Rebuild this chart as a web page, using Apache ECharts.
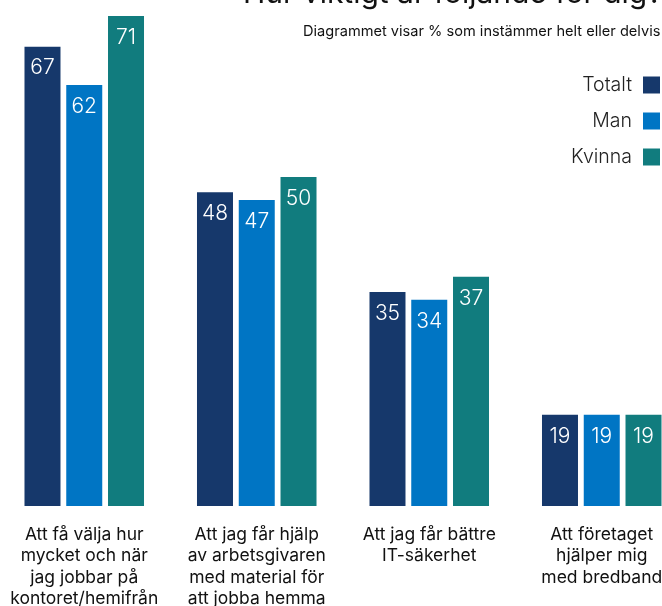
<!DOCTYPE html>
<html>
<head>
<meta charset="utf-8">
<style>
  html, body { margin: 0; padding: 0; background: #fff; }
  #chart { width: 662px; height: 606px; }
</style>
<script src="https://cdn.jsdelivr.net/npm/echarts@6/dist/echarts.min.js"></script>
</head>
<body>
<div id="chart"></div>
<script>
// Survey: share (%) who agree fully or partly, by group
const categories = [
  'Att få välja hur\nmycket och när\njag jobbar på\nkontoret/hemifrån',
  'Att jag får hjälp\nav arbetsgivaren\nmed material för\natt jobba hemma',
  'Att jag får bättre\nIT-säkerhet',
  'Att företaget\nhjälper mig\nmed bredband'
];
const seriesNames = ['Totalt', 'Man', 'Kvinna'];
const totalt = [67, 48, 35, 19];
const man = [62, 47, 34, 19];
const kvinna = [71, 50, 37, 19];
const colors = ['#16386B', '#0075C4', '#117C7E'];

const titleText = 'Hur viktigt är följande för dig?';
const subtitleText = 'Diagrammet visar % som instämmer helt eller delvis';

const FONT = 'Inter, "Noto Sans", sans-serif';

const chart = echarts.init(document.getElementById('chart'), null, { renderer: 'canvas' });

function barSeries(name, data, color) {
  return {
    name: name,
    type: 'bar',
    data: data,
    barWidth: 36,
    barGap: '16%',
    itemStyle: { color: color },
    label: {
      show: true,
      position: 'insideTop',
      distance: 11,
      color: '#ffffff',
      fontFamily: FONT,
      fontWeight: 300,
      fontSize: 21
    }
  };
}

chart.setOption({
  animation: false,
  backgroundColor: '#ffffff',
  title: [
    {
      text: titleText,
      left: 243,
      top: -21,
      padding: 0,
      textStyle: { fontFamily: FONT, fontWeight: 400, fontSize: 30, color: '#111' }
    },
    {
      text: subtitleText,
      left: 303,
      top: 24,
      padding: 0,
      textStyle: { fontFamily: FONT, fontWeight: 400, fontSize: 14.6, color: '#111' }
    }
  ],
  legend: {
    data: seriesNames,
    orient: 'vertical',
    right: 2,
    top: 75,
    padding: 0,
    align: 'right',
    itemWidth: 17,
    itemHeight: 17,
    itemGap: 16,
    icon: 'rect',
    textStyle: { fontFamily: FONT, fontWeight: 300, fontSize: 19.5, color: '#222', padding: [0, 6, 0, 0] }
  },
  grid: { left: -2, right: -26, top: 16, bottom: 100, outerBoundsMode: 'none' },
  xAxis: {
    type: 'category',
    data: categories,
    axisLine: { show: false },
    axisTick: { show: false },
    axisLabel: {
      interval: 0,
      margin: 18,
      fontFamily: FONT,
      fontSize: 17.5,
      lineHeight: 21.3,
      color: '#111',
      align: 'center'
    }
  },
  yAxis: {
    type: 'value',
    min: 7.1,
    max: 71,
    show: false,
    splitLine: { show: false }
  },
  series: [
    barSeries(seriesNames[0], totalt, colors[0]),
    barSeries(seriesNames[1], man, colors[1]),
    barSeries(seriesNames[2], kvinna, colors[2])
  ]
});
</script>
</body>
</html>
